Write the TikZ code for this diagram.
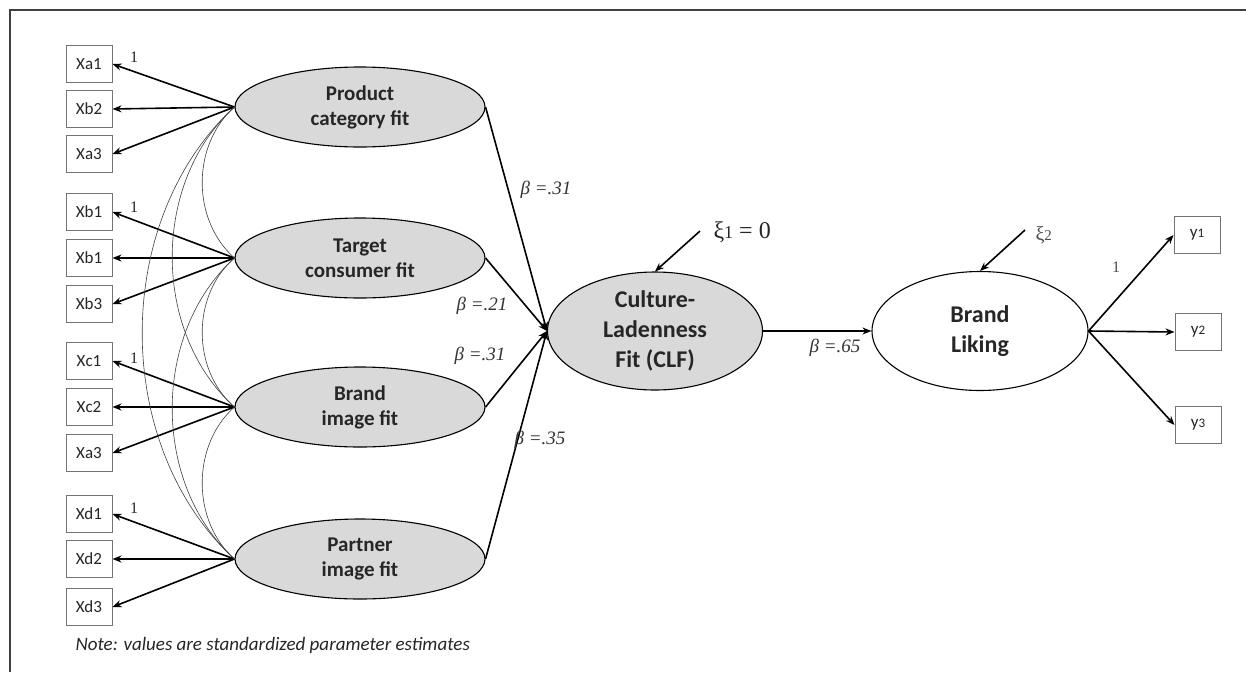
\documentclass[tikz,border=0pt]{standalone}
\usepackage{fontspec}
\setmainfont{Liberation Serif}
\newfontfamily\carl{Carlito}
\usetikzlibrary{shapes.geometric,arrows.meta}
\tikzset{
  mvbox/.style={draw=black!55,line width=1pt,minimum width=46,minimum height=37,inner sep=0pt,font=\carl\fontsize{17}{19}\selectfont,text=black!85},
  lv/.style={ellipse,draw=black,line width=1.1pt,fill=black!15,minimum width=250,minimum height=80,inner sep=0pt,align=center,font=\carl\bfseries\fontsize{21}{25}\selectfont,text=black!85},
  bigv/.style={ellipse,draw=black,line width=1.1pt,minimum width=216,minimum height=119,inner sep=0pt,align=center,font=\carl\bfseries\fontsize{24}{30}\selectfont,text=black!85},
  arr/.style={line width=1.6pt,-{Stealth[length=9pt,width=7pt]}},
  cov/.style={line width=0.6pt,draw=black!75},
  beta/.style={font=\itshape\fontsize{19}{21}\selectfont,text=black!80},
  one/.style={font=\fontsize{16}{18}\selectfont,text=black!85},
}
\begin{document}
\begin{tikzpicture}[x=1pt,y=-1pt]
\useasboundingbox (0,0) rectangle (1246,672);
\fill[white] (0,0) rectangle (1246,672);
\draw[line width=2.2pt,black!75] (10,672) -- (10,10) -- (1246,10);

% indicators
\foreach \n/\t/\y in {a1/Xa1/64,a2/Xb2/109,a3/Xa3/154,b1/Xb1/212,b2/Xb1/258,b3/Xb3/304,c1/Xc1/361,c2/Xc2/407,c3/Xa3/453,d1/Xd1/514,d2/Xd2/559,d3/Xd3/607}
  \node[mvbox] (\n) at (89,\y) {\t};

% latent variables
\node[lv] (L1) at (360,107) {Product\\category fit};
\node[lv] (L2) at (360,258) {Target\\consumer fit};
\node[lv] (L3) at (360,407) {Brand\\image fit};
\node[lv] (L4) at (360,559) {Partner\\image fit};

\node[bigv,fill=black!15,minimum width=215,minimum height=118] (CLF) at (655,331) {Culture-\\Ladenness\\Fit (CLF)};
\node[bigv] (BL) at (980,331) {Brand\\Liking};

\node[mvbox] (y1) at (1197,235) {y{\fontsize{13}{13}\selectfont 1}};
\node[mvbox] (y2) at (1198,332) {y{\fontsize{13}{13}\selectfont 2}};
\node[mvbox] (y3) at (1198,425) {y{\fontsize{13}{13}\selectfont 3}};

% loadings
\foreach \L/\g in {L1/a,L2/b,L3/c,L4/d}
  \foreach \i in {1,2,3}
    \draw[arr] (\L.west) -- (\g\i.east);

% covariances
\draw[cov] (L1.west) .. controls +(-43,38) and +(-43,-38) .. (L2.west);
\draw[cov] (L2.west) .. controls +(-43,37) and +(-43,-37) .. (L3.west);
\draw[cov] (L3.west) .. controls +(-43,38) and +(-43,-38) .. (L4.west);
\draw[cov] (L1.west) .. controls +(-83,75) and +(-83,-75) .. (L3.west);
\draw[cov] (L2.west) .. controls +(-83,75) and +(-83,-75) .. (L4.west);
\draw[cov] (L1.west) .. controls +(-123,113) and +(-123,-113) .. (L4.west);

% structural paths
\foreach \L in {L1,L2,L3,L4}
  \draw[arr] (\L.east) -- (CLF.west);
\draw[arr] (CLF.east) -- (BL.west);
\foreach \y in {y1,y2,y3}
  \draw[arr] (BL.east) -- (\y.west);

% disturbances
\coordinate (e1) at (700,231);
\coordinate (e2) at (1025,230);
\draw[arr] (e1) -- (CLF.north);
\draw[arr] (e2) -- (BL.north);
\node[font=\fontsize{24}{26}\selectfont,text=black!85,anchor=west] (xi1) at (710,232) {ξ{\fontsize{18}{18}\selectfont 1} = 0};
\node[font=\fontsize{20}{22}\selectfont,text=black!70,anchor=west] (xi2) at (1032,235) {ξ{\fontsize{15}{15}\selectfont 2}};

% labels
\node[beta] (b1) at (546,190) {β =.31};
\node[beta] (b2) at (482,306) {β =.21};
\node[beta] (b3) at (480,356) {β =.31};
\node[beta] (b4) at (540,440) {β =.35};
\node[beta] (b5) at (835,348) {β =.65};

\node[one] (o1) at (134,57) {1};
\node[one] (o2) at (134,207) {1};
\node[one] (o3) at (134,358) {1};
\node[one] (o4) at (134,508) {1};
\node[one,text=black!70] (o5) at (1116,267) {1};

\node[anchor=west,font=\carl\itshape\fontsize{19}{21}\selectfont,text=black!85] (note) at (72,645) {Note: values are standardized parameter estimates};
\end{tikzpicture}
\end{document}
